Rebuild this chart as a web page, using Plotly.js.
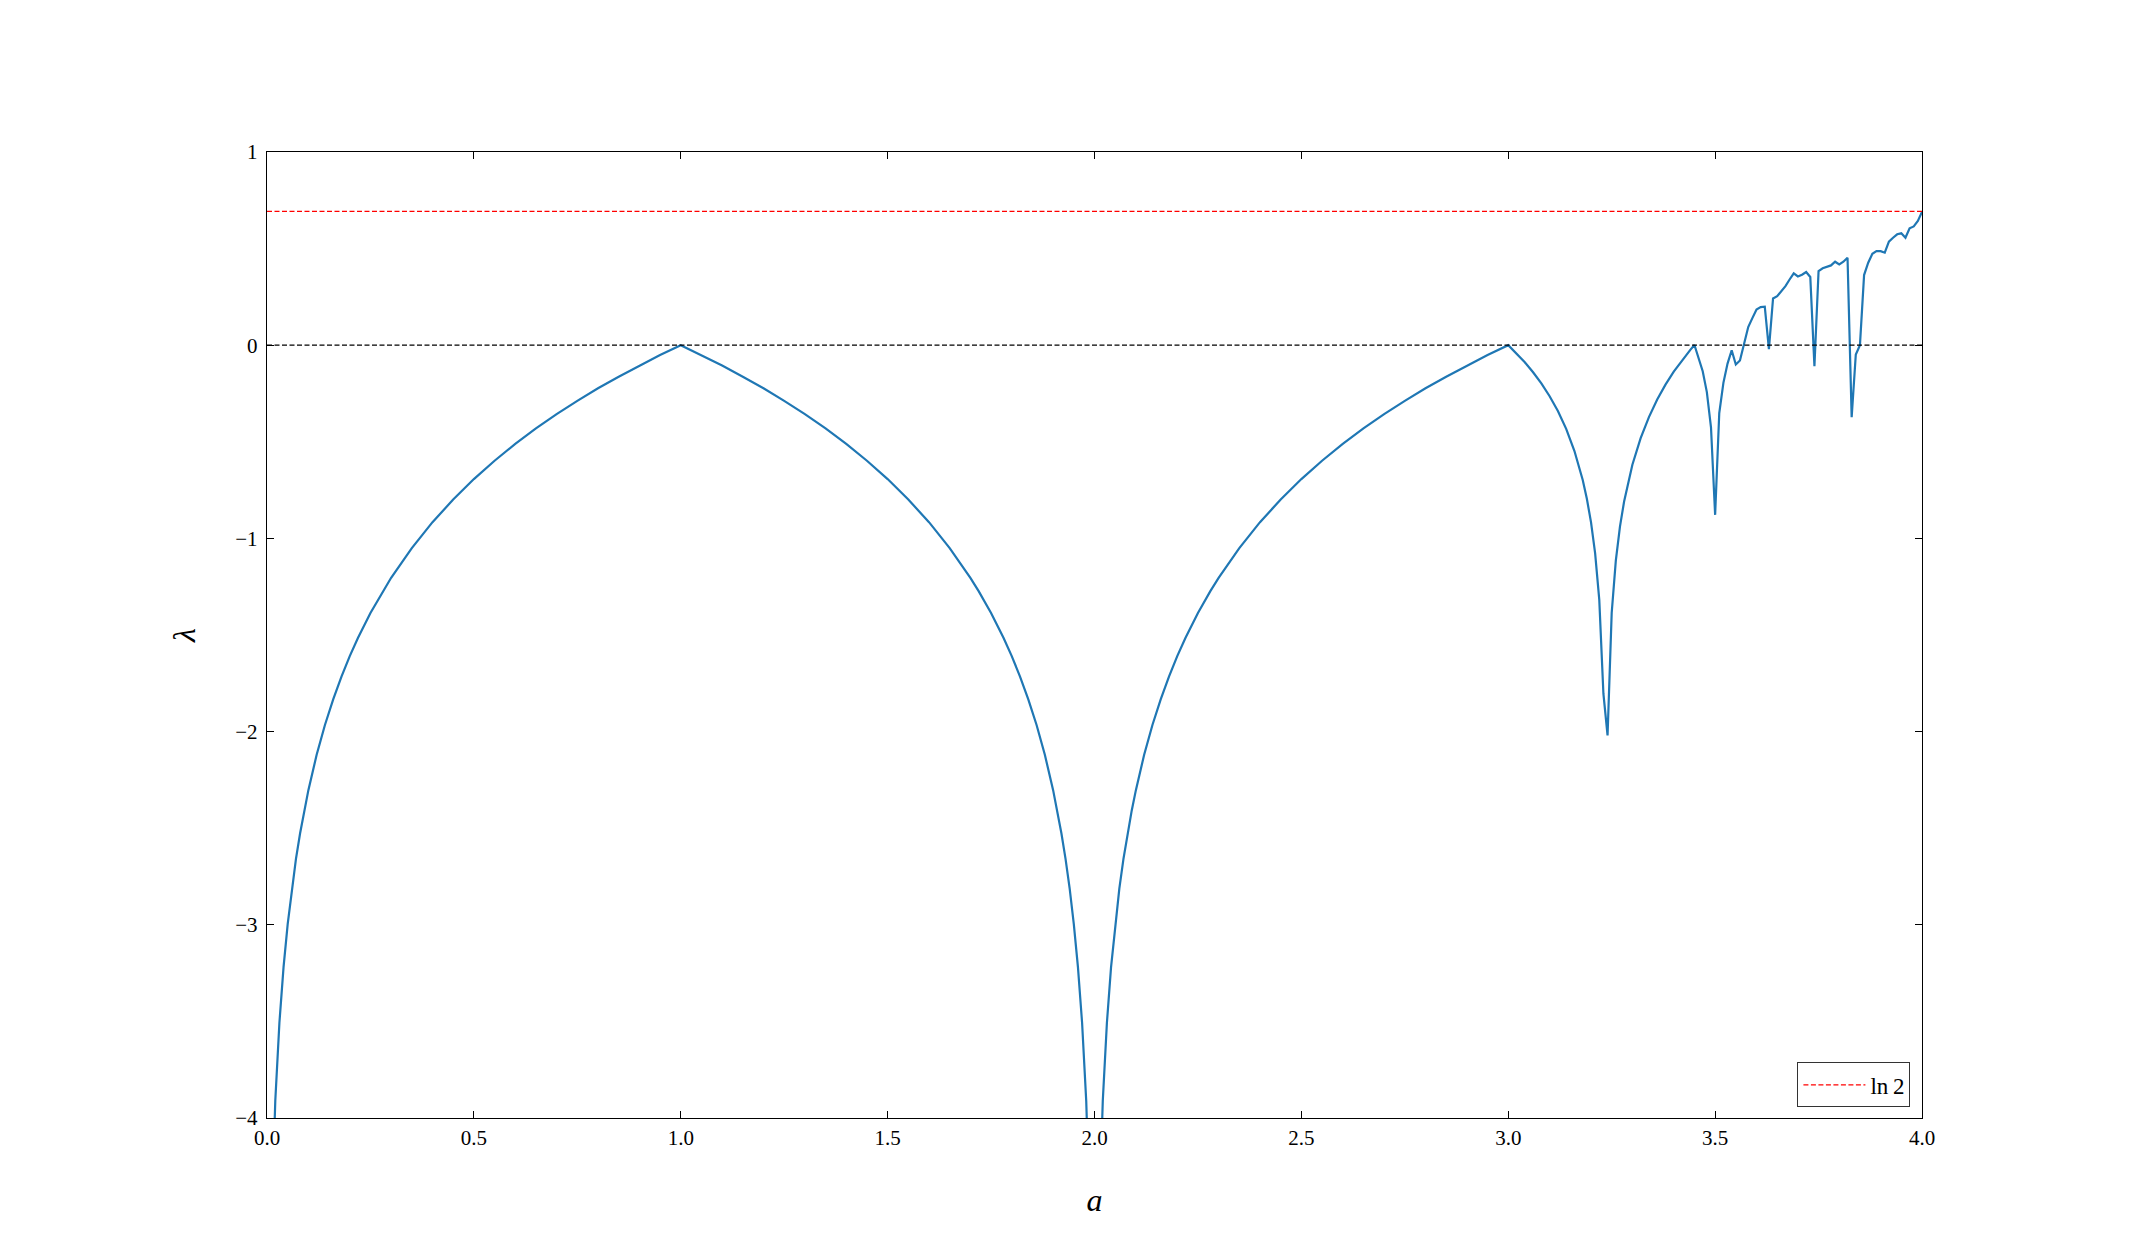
<!DOCTYPE html>
<html>
<head>
<meta charset="utf-8">
<script src="https://cdn.plot.ly/plotly-3.0.1.min.js"></script>
<style>
  html, body { margin: 0; padding: 0; background: #ffffff; }
  #chart { width: 2134px; height: 1256px; }
</style>
</head>
<body>
<div id="chart"></div>
<script>
// Parameter a (x axis)
const aValues = [
  0.01,0.02,0.03,0.04,0.05,0.06,0.07,0.08,0.09,0.10,0.12,0.14,0.16,0.18,0.20,0.22,0.25,0.28,0.30,0.35,
  0.40,0.45,0.50,0.55,0.60,0.65,0.70,0.75,0.80,0.85,0.90,0.95,1.00,
  1.05,1.10,1.15,1.20,1.25,1.30,1.35,1.40,1.45,1.50,1.55,1.60,1.65,1.70,1.72,1.75,1.78,1.80,1.82,1.84,1.86,1.88,
  1.90,1.91,1.92,1.93,1.94,1.95,1.96,1.97,1.98,1.99,
  2.01,2.02,2.03,2.04,2.05,2.06,2.07,2.08,2.09,2.10,2.12,2.14,2.16,2.18,2.20,2.22,2.25,2.28,2.30,2.35,
  2.40,2.45,2.50,2.55,2.60,2.65,2.70,2.75,2.80,2.85,2.90,2.95,3.00,
  3.02,3.04,3.06,3.08,3.10,3.12,3.14,3.16,3.18,3.19,3.20,3.21,3.22,3.23,3.24,3.25,3.26,3.27,3.28,3.29,
  3.30,3.32,3.34,3.36,3.38,3.40,3.42,3.44,3.45,
  3.46,3.47,3.48,3.49,3.50,3.51,3.52,3.53,3.54,3.55,3.56,3.57,3.58,3.59,3.60,3.61,3.62,3.63,3.64,3.65,
  3.66,3.67,3.68,3.69,3.70,3.71,3.72,3.73,3.74,3.75,3.76,3.77,3.78,3.79,3.80,3.81,3.82,3.83,3.84,3.85,
  3.86,3.87,3.88,3.89,3.90,3.91,3.92,3.93,3.94,3.95,3.96,3.97,3.98,3.99,4.00
];

// Lyapunov exponent lambda
const lambdaValues = [
  -4.605,-3.912,-3.507,-3.219,-2.996,-2.813,-2.659,-2.526,-2.408,-2.303,-2.120,-1.966,-1.833,-1.715,-1.609,-1.514,-1.386,-1.273,-1.204,-1.050,
  -0.916,-0.799,-0.693,-0.598,-0.511,-0.431,-0.357,-0.288,-0.223,-0.163,-0.105,-0.051,0.000,
  -0.051,-0.105,-0.163,-0.223,-0.288,-0.357,-0.431,-0.511,-0.598,-0.693,-0.799,-0.916,-1.050,-1.204,-1.273,-1.386,-1.514,-1.609,-1.715,-1.833,-1.966,-2.120,
  -2.303,-2.408,-2.526,-2.659,-2.813,-2.996,-3.219,-3.507,-3.912,-4.605,
  -4.605,-3.912,-3.507,-3.219,-2.996,-2.813,-2.659,-2.526,-2.408,-2.303,-2.120,-1.966,-1.833,-1.715,-1.609,-1.514,-1.386,-1.273,-1.204,-1.050,
  -0.916,-0.799,-0.693,-0.598,-0.511,-0.431,-0.357,-0.288,-0.223,-0.163,-0.105,-0.051,0.000,
  -0.042,-0.088,-0.140,-0.198,-0.264,-0.341,-0.433,-0.548,-0.698,-0.795,-0.916,-1.078,-1.318,-1.804,-2.020,-1.386,-1.115,-0.939,-0.809,-0.705,
  -0.619,-0.481,-0.372,-0.281,-0.204,-0.137,-0.078,-0.024,0.001,
  -0.066,-0.135,-0.243,-0.425,-0.878,-0.351,-0.195,-0.095,-0.026,-0.100,-0.079,0.003,0.094,0.140,0.185,0.197,0.199,-0.020,0.242,0.254,
  0.280,0.306,0.340,0.372,0.356,0.365,0.379,0.353,-0.109,0.384,0.398,0.404,0.413,0.432,0.418,0.432,0.453,-0.373,-0.048,0.000,
  0.363,0.427,0.473,0.487,0.487,0.479,0.536,0.556,0.574,0.579,0.556,0.605,0.615,0.643,0.690
];

// Reference levels
const refX = [0, 4];
const zeroLevel = [0, 0];
const ln2Level = [0.6931, 0.6931];

const xTickVals = [0, 0.5, 1, 1.5, 2, 2.5, 3, 3.5, 4];
const yTickVals = [-4, -3, -2, -1, 0, 1];

const serif = "Liberation Serif, Times New Roman, serif";

const traces = [
  {
    x: aValues, y: lambdaValues, type: 'scatter', mode: 'lines',
    line: { color: '#1f77b4', width: 2.2 },
    showlegend: false, hoverinfo: 'skip'
  },
  {
    x: refX, y: zeroLevel, type: 'scatter', mode: 'lines',
    line: { color: '#000000', width: 1.3, dash: '5px,2.5px' },
    showlegend: false, hoverinfo: 'skip'
  },
  {
    x: refX, y: ln2Level, type: 'scatter', mode: 'lines',
    name: 'ln\u20092',
    line: { color: '#ff0000', width: 1.3, dash: '5px,2.5px' },
    hoverinfo: 'skip'
  }
];

const axisCommon = {
  showline: true, linecolor: '#000000', linewidth: 1.3,
  mirror: 'ticks', ticks: 'inside', ticklen: 7, tickwidth: 1.2, tickcolor: '#000000',
  showgrid: false, zeroline: false,
  tickfont: { family: serif, size: 21, color: '#000000' }
};

const layout = {
  width: 2134, height: 1256,
  margin: { l: 267, r: 212, t: 152, b: 138, pad: 0 },
  paper_bgcolor: '#ffffff', plot_bgcolor: '#ffffff',
  font: { family: serif, color: '#000000' },
  xaxis: Object.assign({}, axisCommon, {
    range: [0, 4], tickvals: xTickVals, tickformat: '.1f',
    title: { text: '<i>a</i>', font: { family: serif, size: 32 }, standoff: 40 },
    automargin: false
  }),
  yaxis: Object.assign({}, axisCommon, {
    range: [-4, 1], tickvals: yTickVals, ticklabelstandoff: 4,
    title: { text: '<i>λ</i>', font: { family: serif, size: 32 }, standoff: 30 },
    automargin: false
  }),
  legend: {
    x: 0.993, y: 0.011, xanchor: 'right', yanchor: 'bottom',
    bgcolor: '#ffffff', bordercolor: '#333333', borderwidth: 1,
    font: { family: serif, size: 23, color: '#000000' },
    itemwidth: 62
  },
  showlegend: true
};

Plotly.newPlot('chart', traces, layout, { staticPlot: true, displayModeBar: false });
</script>
</body>
</html>
